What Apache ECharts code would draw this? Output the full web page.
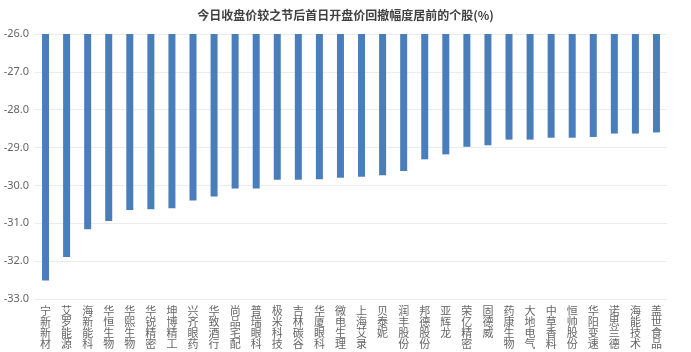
<!DOCTYPE html>
<html>
<head>
<meta charset="utf-8">
<script src="https://cdn.jsdelivr.net/npm/echarts@6/dist/echarts.min.js"></script>
<style>
  html, body { margin: 0; padding: 0; background: #fff; }
  #chart { width: 691px; height: 352px; }
</style>
</head>
<body>
<div id="chart"></div>
<script>
// categories (stock names) and pullback values (%)
var categories = ['宁新新材', '艾罗能源', '海新能科', '华恒生物', '华熙生物', '华锐精密', '坤博精工', '兴齐眼药',
  '华致酒行', '尚品宅配', '普瑞眼科', '极米科技', '吉林碳谷', '华厦眼科', '微电生理', '上海艾录', '贝泰妮',
  '润丰股份', '邦德股份', '亚辉龙', '荣亿精密', '固德威', '药康生物', '大地电气', '中草香料', '恒帅股份',
  '华阳变速', '诺思兰德', '海能技术', '盖世食品']
var values = [-32.51, -31.89, -31.16, -30.94, -30.65, -30.63, -30.60, -30.40,
  -30.29, -30.08, -30.08, -29.85, -29.85, -29.84, -29.80, -29.77, -29.73,
  -29.62, -29.31, -29.18, -28.98, -28.94, -28.79, -28.79, -28.74, -28.74,
  -28.72, -28.63, -28.63, -28.60]
var yMin = -33
var yMax = -26

var chart = echarts.init(document.getElementById('chart'))
chart.setOption({
  animation: false,
  title: {
    text: '今日收盘价较之节后首日开盘价回撤幅度居前的个股(%)',
    left: 'center',
    top: 4,
    textStyle: {
      fontSize: 12,
      fontWeight: 'bold',
      color: '#404040',
      fontFamily: 'Noto Sans CJK SC'
    }
  },
  grid: {
    left: 35,
    right: 24,
    top: 34,
    bottom: 53
  },
  xAxis: {
    type: 'category',
    data: categories,
    axisTick: { show: false },
    axisLine: { show: false },
    axisLabel: {
      interval: 0,
      margin: 6,
      fontSize: 11,
      lineHeight: 11,
      color: '#666666',
      fontFamily: 'Noto Sans CJK SC',
      formatter: function (v) {
        return v.split('').join('\n')
      }
    }
  },
  yAxis: {
    type: 'value',
    min: yMin,
    max: yMax,
    interval: 1,
    axisLine: { show: false },
    axisTick: { show: false },
    splitLine: { lineStyle: { color: '#ebebeb' } },
    axisLabel: {
      margin: 6,
      fontSize: 11,
      color: '#666666',
      fontFamily: 'Noto Sans',
      formatter: function (v) {
        return v.toFixed(1)
      }
    }
  },
  series: [{
    type: 'bar',
    data: values,
    barWidth: 7,
    clip: true,
    itemStyle: { color: '#4a7ebb' }
  }]
})
</script>
</body>
</html>
